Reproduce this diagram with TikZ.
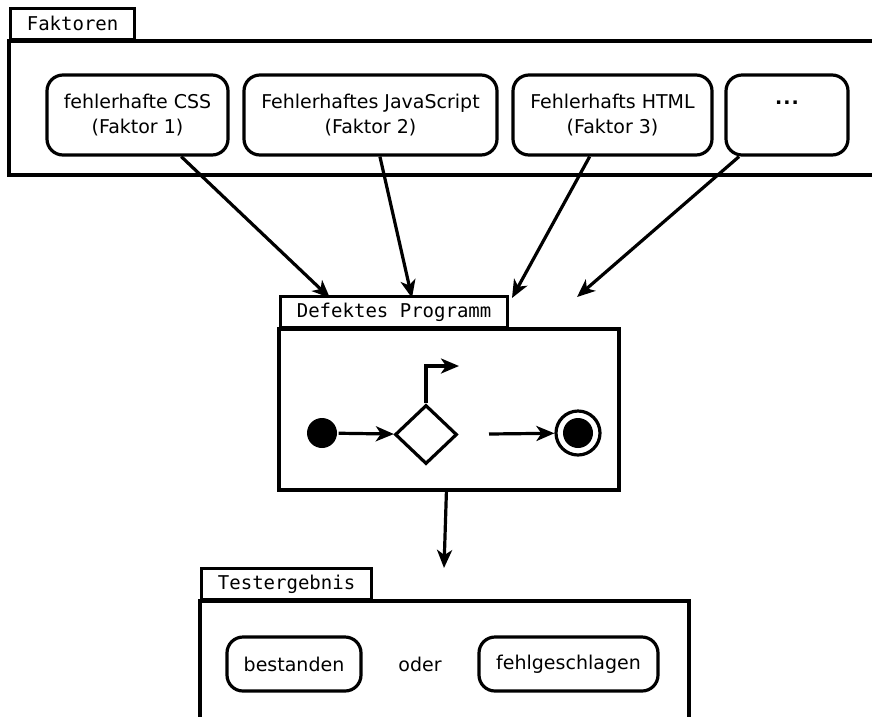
\documentclass[tikz,border=0pt]{standalone}
\usepackage{fontspec}
\setmainfont{DejaVu Sans}
\setmonofont{DejaVu Sans Mono}
\usetikzlibrary{shapes.geometric,arrows.meta}
\begin{document}
\begin{tikzpicture}[x=1pt,y=-1pt,line width=3.2pt,
  font=\fontsize{19}{25}\selectfont,
  state/.style={draw,rounded corners=16pt,align=center,inner sep=0pt},
  tab/.style={draw,anchor=south west,font=\fontsize{19}{25}\selectfont\ttfamily,
    inner xsep=0pt,inner ysep=0pt,minimum height=31pt},
  arr/.style={-{Stealth[length=18pt,width=15pt,inset=5pt]}}]
\useasboundingbox (0,0) rectangle (872,716);

% Faktoren frame (open to the right)
\draw (875,41) -- (9,41) -- (9,175) -- (875,175);
\node[tab,minimum width=124pt] (tabF) at (9,41) {Faktoren};

\node[state,minimum width=181pt,minimum height=80pt] (f1) at (137.5,115)
  {fehlerhafte CSS\\(Faktor 1)};
\node[state,minimum width=253pt,minimum height=80pt] (f2) at (370.5,115)
  {Fehlerhaftes JavaScript\\(Faktor 2)};
\node[state,minimum width=199pt,minimum height=80pt] (f3) at (612.5,115)
  {Fehlerhafts HTML\\(Faktor 3)};
\node[state,minimum width=122pt,minimum height=80pt] (f4) at (787,115)
  {\textbf{.\kern1pt.\kern1pt.}\\\mbox{}};

% Defektes Programm frame
\node[draw,minimum width=340pt,minimum height=161pt,inner sep=0pt] (prog) at (449,409.5) {};
\node[tab,minimum width=227pt] (tabP) at (279,329) {Defektes Programm};

\coordinate (t1) at (330,298);
\coordinate (t2) at (412,298);
\coordinate (t3) at (512,298);
\coordinate (t4) at (577,297);
\draw[arr] (f1) -- (t1);
\draw[arr] (f2) -- (t2);
\draw[arr] (f3) -- (t3);
\draw[arr] (f4) -- (t4);

% activity inside the program
\node[circle,fill,minimum size=30pt,inner sep=0pt] (init) at (322,433) {};
\node[diamond,draw,minimum width=62pt,minimum height=59pt,inner sep=0pt] (dec) at (426,434.5) {};
\node[circle,draw,minimum size=44pt,inner sep=0pt] (final) at (578,433) {};
\node[circle,fill,minimum size=30pt,inner sep=0pt] (finalin) at (578,433) {};
\coordinate (up) at (459,366);
\coordinate (from) at (489,434);
\draw[arr] (init) -- (dec);
\draw[arr] (dec.north) |- (up);
\draw[arr] (from) -- (final);

% Testergebnis frame (open at the bottom)
\coordinate (t5) at (444,568);
\draw[arr] (prog) -- (t5);
\draw (200,720) -- (200,601) -- (689,601) -- (689,720);
\node[tab,minimum width=170pt] (tabT) at (200,601) {Testergebnis};

\node[state,minimum width=134pt,minimum height=54pt] (pass) at (294,664) {bestanden};
\node (oder) at (420,664) {oder};
\node[state,minimum width=179pt,minimum height=54pt] (fail) at (568.5,664) {fehlgeschlagen};
\end{tikzpicture}
\end{document}
